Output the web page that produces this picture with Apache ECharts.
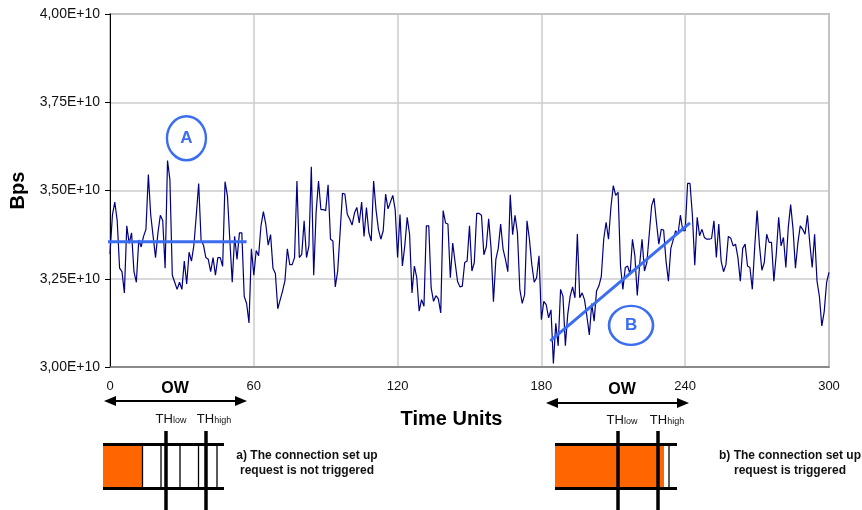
<!DOCTYPE html>
<html>
<head>
<meta charset="utf-8">
<script src="https://cdn.jsdelivr.net/npm/echarts@6/dist/echarts.min.js"></script>
<style>
html,body{margin:0;padding:0;background:#fff;}
#chart{width:862px;height:510px;}
</style>
</head>
<body>
<div id="chart"></div>
<script>
// Throughput in units of 1E+10 Bps, one value per time unit (0..300)
var bpsE10 = [
3.32,3.43,3.467,3.415,3.28,3.27,3.21,3.40,3.35,3.38,
3.27,3.24,3.36,3.34,3.37,3.39,3.545,3.43,3.37,3.31,
3.38,3.43,3.415,3.28,3.585,3.53,3.26,3.24,3.22,3.24,
3.22,3.30,3.235,3.325,3.30,3.345,3.43,3.52,3.36,3.345,
3.31,3.305,3.27,3.31,3.26,3.31,3.31,3.285,3.525,3.485,
3.36,3.24,3.37,3.305,3.38,3.38,3.20,3.18,3.125,3.335,
3.26,3.33,3.315,3.40,3.44,3.405,3.345,3.375,3.28,3.265,
3.165,3.19,3.215,3.245,3.335,3.29,3.29,
3.31,3.527,3.31,3.319,3.414,3.31,3.343,3.567,3.26,3.438,
3.527,3.446,3.446,3.443,3.516,3.362,3.357,3.227,3.272,3.38,
3.492,3.49,3.433,3.419,3.402,3.436,3.452,3.408,3.467,3.37,
3.452,3.381,3.357,3.527,3.445,3.39,3.362,3.386,3.49,3.448,
3.467,3.486,3.445,3.31,3.432,3.286,3.343,3.424,3.376,3.21,
3.286,3.253,3.158,3.191,3.172,3.40,3.40,3.224,3.186,3.202,
3.193,3.153,3.443,3.408,3.405,3.253,3.351,3.296,3.243,3.227,
3.229,3.296,3.30,3.40,3.272,
3.296,3.435,3.435,3.43,3.318,3.34,3.42,3.336,3.185,3.305,
3.336,3.405,3.334,3.305,3.27,3.488,3.375,3.43,3.38,3.22,
3.18,3.205,3.414,3.362,3.29,3.24,3.253,3.315,3.134,3.186,
3.177,3.139,3.162,3.01,3.124,3.06,3.22,3.20,3.06,3.15,
3.20,3.227,3.196,3.377,3.196,3.21,3.19,3.143,3.091,3.18,
3.13,3.215,3.23,3.257,3.362,3.41,3.362,3.452,3.514,3.486,
3.495,3.286,3.22,3.282,3.286,3.262,3.362,3.315,3.203,3.291,
3.362,3.272,3.296,3.376,3.457,
3.478,3.41,3.348,3.39,3.388,3.30,3.243,3.336,3.36,3.386,
3.376,3.43,3.386,3.386,3.52,3.52,3.43,3.288,3.424,3.372,
3.39,3.367,3.362,3.362,3.364,3.414,3.31,3.405,3.30,3.27,
3.29,3.37,3.365,3.343,3.348,3.31,3.243,3.336,3.348,3.286,
3.282,3.22,3.34,3.443,3.343,3.274,3.296,3.376,3.353,3.353,
3.243,3.32,3.424,3.343,3.367,3.282,3.395,3.46,3.39,3.28,
3.35,3.40,3.39,3.376,3.43,3.35,3.282,3.376,3.243,3.20,
3.116,3.157,3.24,3.268
];
var xTicks = [0, 60, 120, 180, 240, 300];
var yTicks = [3.00, 3.25, 3.50, 3.75, 4.00];
// Annotation lines (time, value)
var lineA = [[-2, 3.355], [57, 3.355]];
var lineB = [[183.7, 3.074], [242, 3.408]];
// Annotation circle labels (time, value)
var labelA = [31.9, 3.648];
var labelB = [217.4, 3.118];

var seriesData = bpsE10.map(function (v, i) { return [i, v]; });

var chart = echarts.init(document.getElementById('chart'), null, {renderer: 'canvas'});
var black = '#000';
var orange = '#ff6600';
var blue = '#3a6df0';
var sans = "'Liberation Sans',Arial,sans-serif";

function vline(x, y1, y2, w) {
  return {type: 'line', shape: {x1: x, y1: y1, x2: x, y2: y2}, style: {stroke: black, lineWidth: w}, z: 10};
}
function hline(x1, x2, y, w) {
  return {type: 'line', shape: {x1: x1, y1: y, x2: x2, y2: y}, style: {stroke: black, lineWidth: w}, z: 10};
}
function arrow(x1, x2, y) {
  return [
    hline(x1 + 6, x2 - 6, y, 2),
    {type: 'polygon', shape: {points: [[x1, y], [x1 + 12, y - 5], [x1 + 12, y + 5]]}, style: {fill: black}, z: 10},
    {type: 'polygon', shape: {points: [[x2, y], [x2 - 12, y - 5], [x2 - 12, y + 5]]}, style: {fill: black}, z: 10}
  ];
}
function thText(x, y, sub) {
  return {type: 'text', x: x, y: y, style: {
    text: '{a|TH}{b|' + sub + '}', align: 'center', verticalAlign: 'middle',
    rich: {a: {fontSize: 13, fontFamily: sans, fill: '#111'}, b: {fontSize: 9, fontFamily: sans, fill: '#111', padding: [4, 0, 0, 0]}}
  }, z: 10};
}
function owText(x, y) {
  return {type: 'text', x: x, y: y, style: {text: 'OW', fontSize: 16, fontWeight: 'bold', fontFamily: sans, fill: black, align: 'center', verticalAlign: 'middle'}, z: 10};
}
function noteText(x, y, lines) {
  return {type: 'text', x: x, y: y, style: {text: lines.join('\n'), fontSize: 12, lineHeight: 15, fontWeight: 'bold', fontFamily: sans, fill: '#111', align: 'center', verticalAlign: 'middle'}, z: 10};
}

var graphics = [];
// left diagram
graphics = graphics.concat(arrow(104, 247, 401));
graphics.push(owText(175, 389));
graphics.push(thText(171, 419, 'low'));
graphics.push(thText(214, 419, 'high'));
graphics.push({type: 'rect', shape: {x: 103, y: 445, width: 39.5, height: 43}, style: {fill: orange}, z: 9});
graphics.push(hline(103, 224, 444.5, 3));
graphics.push(hline(103, 224, 488.5, 3));
[142.5, 161, 180, 198.5, 217].forEach(function (x) { graphics.push(vline(x, 444, 489, 1.3)); });
graphics.push(vline(166, 431, 510, 3.5));
graphics.push(vline(206, 431, 510, 3.5));
graphics.push(noteText(307, 463, ['a) The connection set up', 'request is not triggered']));
// right diagram
graphics = graphics.concat(arrow(546, 689, 403));
graphics.push(owText(622, 390));
graphics.push(thText(622, 420, 'low'));
graphics.push(thText(667, 420, 'high'));
graphics.push({type: 'rect', shape: {x: 555, y: 445, width: 109, height: 43}, style: {fill: orange}, z: 9});
graphics.push(hline(555, 677, 444.5, 3));
graphics.push(hline(555, 677, 488.5, 3));
graphics.push(vline(669, 444, 489, 1.3));
graphics.push(vline(618, 431, 510, 3.5));
graphics.push(vline(658, 431, 510, 3.5));
graphics.push(noteText(790, 463, ['b) The connection set up', 'request is triggered']));

chart.setOption({
  animation: false,
  backgroundColor: '#fff',
  grid: {left: 110, right: 33, top: 14, bottom: 143, show: true, borderColor: '#8a8a8a', borderWidth: 1.5},
  xAxis: {
    type: 'value', min: 0, max: 300, interval: 60,
    name: 'Time Units', nameLocation: 'middle', nameGap: 42,
    nameTextStyle: {fontSize: 20, fontWeight: 'bold', fontFamily: sans, color: '#000', padding: [0, 36, 0, 0]},
    axisLine: {show: true, lineStyle: {color: '#777', width: 1.5}},
    axisTick: {show: false},
    axisLabel: {fontSize: 13, color: '#111', fontFamily: sans, margin: 13,
      formatter: function (v) { return xTicks.indexOf(v) >= 0 ? String(v) : ''; }},
    splitLine: {show: true, lineStyle: {color: '#cccccc', width: 1.5}}
  },
  yAxis: {
    type: 'value', min: 3.0, max: 4.0, interval: 0.25,
    name: 'Bps', nameLocation: 'middle', nameGap: 78, nameRotate: 90,
    nameTextStyle: {fontSize: 20, fontWeight: 'bold', fontFamily: sans, color: '#000'},
    axisLine: {show: true, lineStyle: {color: '#000', width: 1}},
    axisTick: {show: true, inside: false, length: 5, lineStyle: {color: '#000'}},
    axisLabel: {fontSize: 14, color: '#111', fontFamily: sans, margin: 10,
      formatter: function (v) {
        var t = yTicks.filter(function (y) { return Math.abs(y - v) < 1e-6; });
        return t.length ? t[0].toFixed(2).replace('.', ',') + 'E+10' : '';
      }},
    splitLine: {show: true, lineStyle: {color: '#cccccc', width: 1.5}}
  },
  series: [
    {type: 'line', data: seriesData, showSymbol: false, symbol: 'none',
     lineStyle: {color: '#000080', width: 1.2}, z: 3},
    {type: 'line', data: lineA, showSymbol: false, symbol: 'none', clip: false,
     lineStyle: {color: blue, width: 3}, z: 4},
    {type: 'line', data: lineB, showSymbol: false, symbol: 'none', clip: false,
     lineStyle: {color: blue, width: 3}, z: 4},
    {type: 'scatter', data: [labelA.concat(['A']), labelB.concat(['B'])], clip: false,
     symbol: 'circle', symbolSize: function (v) { return v[2] === 'A' ? [39, 44] : [44, 39]; },
     itemStyle: {color: 'rgba(255,255,255,0)', borderColor: blue, borderWidth: 2.5, opacity: 1},
     label: {show: true, position: 'inside', formatter: function (p) { return p.value[2]; },
       fontSize: 17, fontWeight: 'bold', color: blue, fontFamily: sans},
     emphasis: {disabled: true}, silent: true, z: 5}
  ],
  graphic: graphics
});
</script>
</body>
</html>
